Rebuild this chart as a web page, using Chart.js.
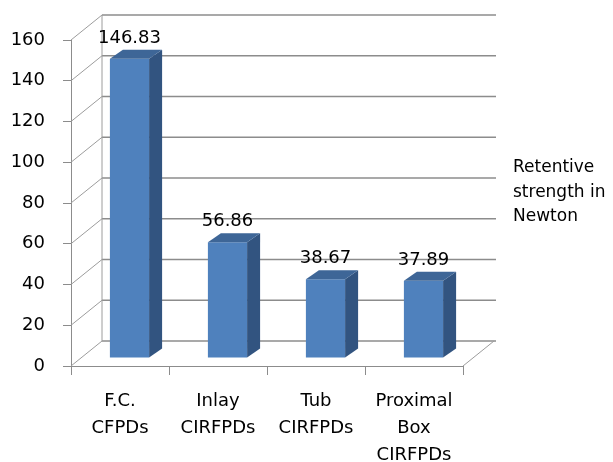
<!DOCTYPE html>
<html>
<head>
<meta charset="utf-8">
<script src="https://cdn.jsdelivr.net/npm/chart.js@4/dist/chart.umd.min.js"></script>
<style>
  html, body { margin: 0; padding: 0; background: #fff; }
  #wrap { width: 613px; height: 462px; }
</style>
</head>
<body>
<div id="wrap"><canvas id="barChart" width="613" height="462"></canvas></div>
<script>
// Chart data
const categories = [
  ["F.C.", "CFPDs"],
  ["Inlay", "CIRFPDs"],
  ["Tub", "CIRFPDs"],
  ["Proximal", "Box", "CIRFPDs"],
];
const values = [146.83, 56.86, 38.67, 37.89];
const seriesName = ["Retentive", "strength in", "Newton"];

// 3d look
const WALL = { dx: 31, dy: -25 };
const BAR_SHIFT = { x: 9.5, y: -8 };
const BAR_DEPTH = { x: 13, y: -9 };
const FONT = "DejaVu Sans";

const bar3d = {
  id: "bar3d",
  beforeDatasetsDraw(chart) {
    const { ctx, chartArea, scales } = chart;
    const y = scales.y;
    const left = chartArea.left, right = chartArea.right, bottom = chartArea.bottom;
    ctx.save();
    // back wall gridlines + left wall diagonals
    y.ticks.forEach(t => {
      const yf = y.getPixelForValue(t.value);
      const yb = yf + WALL.dy;
      ctx.strokeStyle = "#8c8c8c";
      ctx.lineWidth = 1.6;
      ctx.beginPath();
      ctx.moveTo(left + WALL.dx, yb);
      ctx.lineTo(right + WALL.dx + 2, yb);
      ctx.stroke();
      ctx.strokeStyle = "#9c9c9c";
      ctx.lineWidth = 1;
      ctx.beginPath();
      ctx.moveTo(left, yf);
      ctx.lineTo(left + WALL.dx, yb);
      ctx.stroke();
    });
    // back wall left edge
    ctx.strokeStyle = "#9c9c9c";
    ctx.lineWidth = 1;
    ctx.beginPath();
    ctx.moveTo(left + WALL.dx, y.getPixelForValue(y.min) + WALL.dy);
    ctx.lineTo(left + WALL.dx, y.getPixelForValue(y.max) + WALL.dy);
    ctx.stroke();
    // floor right edge
    ctx.beginPath();
    ctx.moveTo(right, bottom);
    ctx.lineTo(right + WALL.dx, bottom + WALL.dy);
    ctx.stroke();
    ctx.restore();

    ctx.save();
    ctx.translate(BAR_SHIFT.x, BAR_SHIFT.y);
  },
  afterDatasetsDraw(chart) {
    const { ctx } = chart;
    const meta = chart.getDatasetMeta(0);
    meta.data.forEach(bar => {
      const l = bar.x - bar.width / 2;
      const r = bar.x + bar.width / 2;
      const top = bar.y;
      const base = bar.base;
      // side face
      ctx.fillStyle = "#325480";
      ctx.beginPath();
      ctx.moveTo(r, top);
      ctx.lineTo(r + BAR_DEPTH.x, top + BAR_DEPTH.y);
      ctx.lineTo(r + BAR_DEPTH.x, base + BAR_DEPTH.y);
      ctx.lineTo(r, base);
      ctx.closePath();
      ctx.fill();
      // top face
      ctx.fillStyle = "#3e6697";
      ctx.beginPath();
      ctx.moveTo(l, top);
      ctx.lineTo(l + BAR_DEPTH.x, top + BAR_DEPTH.y);
      ctx.lineTo(r + BAR_DEPTH.x, top + BAR_DEPTH.y);
      ctx.lineTo(r, top);
      ctx.closePath();
      ctx.fill();
    });
    // data labels
    ctx.fillStyle = "#000";
    ctx.font = "18px '" + FONT + "'";
    ctx.textAlign = "center";
    ctx.textBaseline = "alphabetic";
    meta.data.forEach((bar, i) => {
      ctx.fillText(values[i].toFixed(2), bar.x, bar.y - 16);
    });
    ctx.restore();

    // legend text
    ctx.save();
    ctx.fillStyle = "#000";
    ctx.font = "17px '" + FONT + "'";
    ctx.textAlign = "left";
    ctx.textBaseline = "middle";
    seriesName.forEach((line, i) => {
      ctx.fillText(line, 513, 168 + i * 24.5);
    });
    ctx.restore();
  },
};

document.addEventListener("DOMContentLoaded", function () {
  const ctx = document.getElementById("barChart").getContext("2d");
  new Chart(ctx, {
    type: "bar",
    data: {
      labels: categories,
      datasets: [
        {
          label: seriesName.join(" "),
          data: values,
          backgroundColor: "#4f81bd",
          borderWidth: 0,
          barPercentage: 0.4,
          categoryPercentage: 1,
        },
      ],
    },
    options: {
      responsive: false,
      animation: false,
      layout: {
        padding: { top: 40, right: 150, bottom: 0, left: 0 },
      },
      plugins: {
        legend: { display: false },
        tooltip: { enabled: false },
      },
      scales: {
        x: {
          offset: true,
          grid: {
            offset: true,
            drawOnChartArea: false,
            drawTicks: true,
            tickLength: 9,
            color: "#8c8c8c",
          },
          border: { display: true, color: "#8c8c8c", width: 1 },
          ticks: {
            color: "#000",
            padding: 13,
            maxRotation: 0,
            autoSkip: false,
            font: { family: FONT, size: 18, lineHeight: 1.5 },
          },
          afterFit: scale => { scale.height = 96; },
        },
        y: {
          min: 0,
          max: 160,
          grid: {
            drawOnChartArea: false,
            drawTicks: true,
            tickLength: 8,
            color: "#8c8c8c",
          },
          border: { display: true, color: "#8c8c8c", width: 1 },
          ticks: {
            stepSize: 20,
            color: "#000",
            padding: 18,
            font: { family: FONT, size: 18 },
          },
          afterFit: scale => { scale.width = 71; },
        },
      },
    },
    plugins: [bar3d],
  });
});
</script>
</body>
</html>
